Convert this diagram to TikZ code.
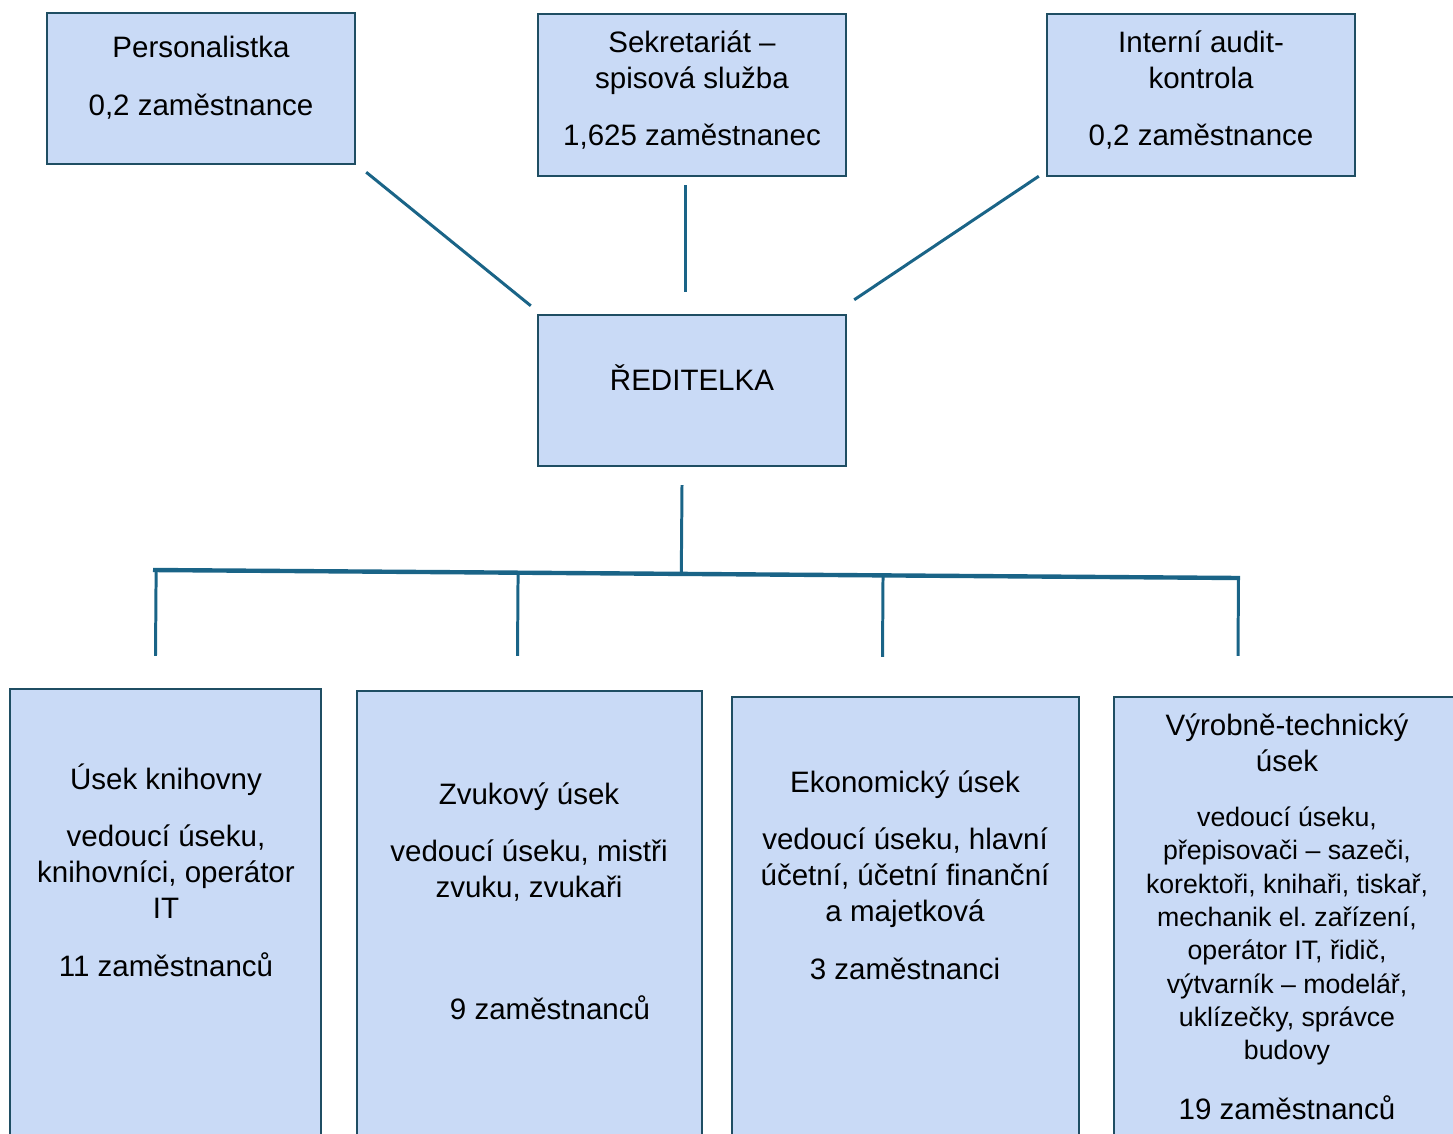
\documentclass[tikz,border=0pt]{standalone}
\usepackage{fontspec}
\setmainfont{Liberation Sans}
\usetikzlibrary{calc}
\definecolor{boxfill}{HTML}{C9DAF6}
\definecolor{boxline}{HTML}{1F4E63}
\definecolor{linkcol}{HTML}{1A6487}
\tikzset{
	unit/.style={draw=boxline, fill=boxfill, line width=1.4pt, inner sep=0pt},
	boxtext/.style={align=center, inner sep=0pt, font=\fontsize{16.8}{20.4}\selectfont},
	smalltext/.style={align=center, inner sep=0pt, font=\fontsize{15.2}{19}\selectfont},
	link/.style={draw=linkcol, line width=1.7pt},
	bar/.style={draw=linkcol, line width=2.5pt}
}

\begin{document}
\begin{tikzpicture}[x=0.02cm, y=-0.02cm]
		%%%%% START %%%%%
		\useasboundingbox (0, 0) rectangle (1453, 1133);
		\clip (0, 0) rectangle (1453, 1133);
		
		% top row
		\node[unit, minimum width=6.16cm, minimum height=3.02cm] (pers) at (201, 88.5) {};
		\node[unit, minimum width=6.16cm, minimum height=3.24cm] (sekr) at (692, 95) {};
		\node[unit, minimum width=6.16cm, minimum height=3.24cm] (audit) at (1201, 95) {};
		\node[boxtext] (pers-txt) at (201, 78) {Personalistka\\[12.5pt]0,2 zaměstnance};
		\node[boxtext] (sekr-txt) at (692, 90) {Sekretariát –\\spisová služba\\[12.5pt]1,625 zaměstnanec};
		\node[boxtext] (audit-txt) at (1201, 90) {Interní audit-\\kontrola\\[12.5pt]0,2 zaměstnance};
		
		% director
		\node[unit, minimum width=6.16cm, minimum height=3.02cm] (red) at (692, 390.5) {};
		\node[boxtext] (red-txt) at (692, 378) {ŘEDITELKA};
		
		% bottom row
		\node[unit, minimum width=6.22cm, minimum height=9.42cm] (knih) at (165.5, 924.5) {};
		\node[unit, minimum width=6.90cm, minimum height=9.38cm] (zvuk) at (529.5, 925.5) {};
		\node[unit, minimum width=6.94cm, minimum height=9.26cm] (ekon) at (905.5, 928.5) {};
		\node[unit, minimum width=7.32cm, minimum height=9.26cm] (vyrob) at (1297, 928.5) {};
		
		\node[boxtext] (knih-txt) at (166, 870) {Úsek knihovny\\[12.5pt]vedoucí úseku,\\knihovníci, operátor\\IT\\[12.5pt]11 zaměstnanců};
		\node[boxtext] (zvuk-txt) at (529, 842) {Zvukový úsek\\[12.5pt]vedoucí úseku, mistři\\zvuku, zvukaři};
		\node[boxtext] (zvuk-num) at (550, 1008) {9 zaměstnanců};
		\node[boxtext] (ekon-txt) at (905, 875) {Ekonomický úsek\\[12.5pt]vedoucí úseku, hlavní\\účetní, účetní finanční\\a majetková\\[12.5pt]3 zaměstnanci};
		\node[boxtext] (vyrob-tit) at (1287, 743) {Výrobně-technický\\úsek};
		\node[smalltext] (vyrob-txt) at (1287, 936) {vedoucí úseku,\\přepisovači – sazeči,\\korektoři, knihaři, tiskař,\\mechanik el.\ zařízení,\\operátor IT, řidič,\\výtvarník – modelář,\\uklízečky, správce\\budovy};
		\node[boxtext] (vyrob-num) at (1287, 1108) {19 zaměstnanců};
		
		% links to the director
		\draw[link] ([shift={(10,7)}]pers.south east) -- ([shift={(-6,-8)}]red.north west);
		\draw[link] ([shift={(-7,8)}]sekr.south) -- ([shift={(-7,-22)}]red.north);
		\draw[link] ([shift={(-7,-1)}]audit.south west) -- ([shift={(7,-14)}]red.north east);
		
		% bar and drops
		\coordinate (barL) at (153, 570);
		\coordinate (barR) at (1240, 578);
		\draw[bar] (barL) -- (barR);
		\coordinate (stem) at ([shift={(-10,18)}]red.south);
		\draw[link] (stem) -- ($(barL)!(stem)!(barR)$);
		
		\coordinate (knih-top) at ([shift={(-10,-32)}]knih.north);
		\coordinate (zvuk-top) at ([shift={(-12,-34)}]zvuk.north);
		\coordinate (ekon-top) at ([shift={(-23,-39)}]ekon.north);
		\coordinate (vyrob-top) at ([shift={(-59,-40)}]vyrob.north);
		\draw[link] (knih-top) -- ($(barL)!(knih-top)!(barR)$);
		\draw[link] (zvuk-top) -- ($(barL)!(zvuk-top)!(barR)$);
		\draw[link] (ekon-top) -- ($(barL)!(ekon-top)!(barR)$);
		\draw[link] (vyrob-top) -- ($(barL)!(vyrob-top)!(barR)$);
		
		%%%%% END %%%%%
	\end{tikzpicture}
\end{document}
